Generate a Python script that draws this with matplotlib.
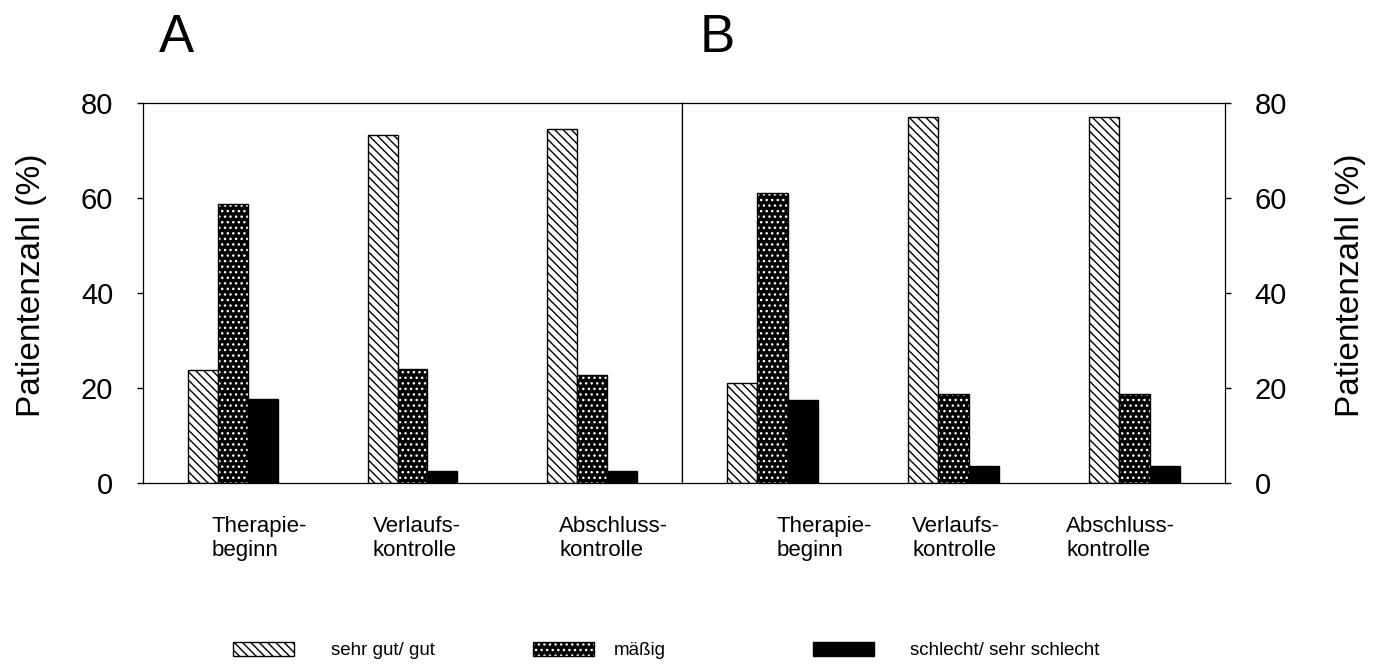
import matplotlib
matplotlib.use("Agg")
import matplotlib.pyplot as plt
from matplotlib.patches import Patch

plt.rcParams['font.family'] = ['Liberation Sans', 'DejaVu Sans']
plt.rcParams['hatch.linewidth'] = 1.0

# Daten (Patientenzahl in %)
zeitpunkte = ['Therapie-\nbeginn', 'Verlaufs-\nkontrolle', 'Abschluss-\nkontrolle']
kategorien = ['sehr gut/ gut', 'mäßig', 'schlecht/ sehr schlecht']

gut_a = [23.8, 73.3, 74.5]
maessig_a = [58.7, 24.0, 22.7]
schlecht_a = [17.7, 2.5, 2.5]

gut_b = [21.1, 77.0, 77.0]
maessig_b = [61.0, 18.7, 18.7]
schlecht_b = [17.5, 3.5, 3.5]

# Position der Beschriftungen unter den Gruppen
label_pos_a = [0.145, 1.025, 2.121]
label_pos_b = [0.285, 1.014, 1.925]

fig = plt.figure(figsize=(13.8, 6.66), dpi=100)
ax_a = fig.add_axes([143 / 1380, 1 - 483 / 666, 539 / 1380, 380 / 666])
ax_b = fig.add_axes([682 / 1380, 1 - 483 / 666, 543 / 1380, 380 / 666])

w = 1 / 6
x = [0, 1, 2]
schraeg = '\\\\\\\\'


def zeichne(ax, gut, maessig, schlecht, label_pos):
    ax.bar([i - w for i in x], gut, w, facecolor='white', edgecolor='black',
           hatch=schraeg, linewidth=1)
    # schwarz mit weissen Punkten, danach schwarzer Rand
    ax.bar(x, maessig, w, facecolor='black', edgecolor='white', hatch='...', linewidth=0)
    ax.bar(x, maessig, w, facecolor='none', edgecolor='black', linewidth=1)
    ax.bar([i + w for i in x], schlecht, w, facecolor='black', edgecolor='black', linewidth=1)
    ax.set_xlim(-0.5, 2.5)
    ax.set_ylim(0, 80)
    ax.set_yticks([0, 20, 40, 60, 80])
    ax.set_xticks(label_pos)
    ax.set_xticklabels(zeitpunkte, fontsize=16, multialignment='left', linespacing=1.15)
    ax.tick_params(axis='x', length=0, pad=24)
    ax.tick_params(axis='y', direction='out', length=4.5, width=1, labelsize=21, pad=17)
    for s in ax.spines.values():
        s.set_linewidth(0.9)


zeichne(ax_a, gut_a, maessig_a, schlecht_a, label_pos_a)
zeichne(ax_b, gut_b, maessig_b, schlecht_b, label_pos_b)

ax_a.set_ylabel('Patientenzahl (%)', fontsize=24)
ax_a.yaxis.set_label_coords(-0.178, 0.52)

ax_b.yaxis.tick_right()
ax_b.yaxis.set_label_position('right')
ax_b.set_ylabel('Patientenzahl (%)', fontsize=24)
ax_b.yaxis.set_label_coords(1.2026, 0.52)

fig.text(176 / 1380, 1 - 52 / 666, 'A', fontsize=38, ha='center', va='baseline')
fig.text(717 / 1380, 1 - 52 / 666, 'B', fontsize=38, ha='center', va='baseline')

# Legende: drei einzelne Eintraege
h_gut = Patch(facecolor='white', edgecolor='black', hatch=schraeg, linewidth=1)
h_m1 = Patch(facecolor='black', edgecolor='white', hatch='...', linewidth=0)
h_m2 = Patch(facecolor='none', edgecolor='black', linewidth=1)
h_schlecht = Patch(facecolor='black', edgecolor='black', linewidth=1)

eintraege = [(h_gut, 233, 2.0), ((h_m1, h_m2), 533, 1.05), (h_schlecht, 813, 1.9)]
for (handle, px, pad), text in zip(eintraege, kategorien):
    fig.legend([handle], [text], loc='center left', bbox_to_anchor=(px / 1380, 1 - 650.5 / 666),
               frameon=False, fontsize=13.5, handlelength=3.25, handleheight=0.84,
               handletextpad=pad, borderpad=0, borderaxespad=0)

fig.savefig('out.png', dpi=100)
